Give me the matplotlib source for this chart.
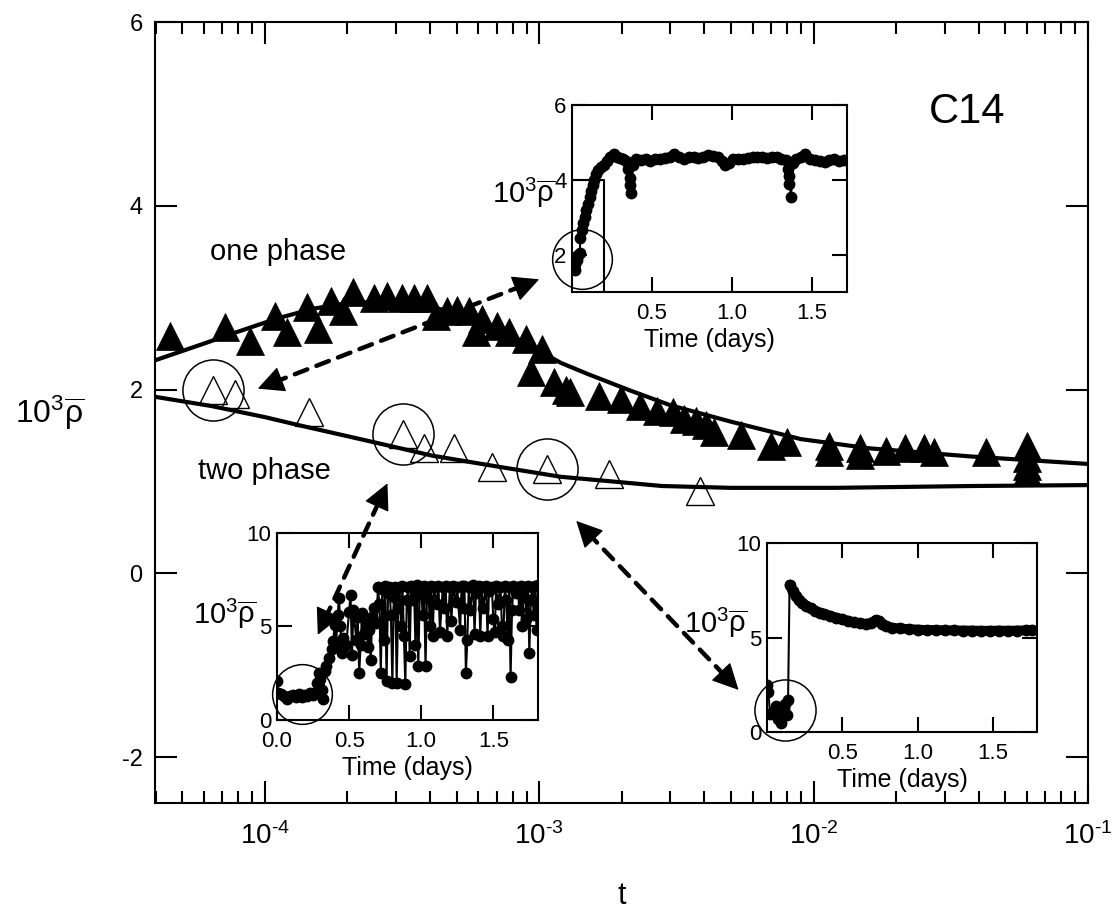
import numpy as np
import matplotlib.pyplot as plt
from matplotlib.patches import ConnectionPatch
from matplotlib.ticker import LogLocator, NullFormatter, FuncFormatter

plt.rcParams['font.family'] = ['Liberation Sans', 'DejaVu Sans']
plt.rcParams['mathtext.fontset'] = 'custom'
plt.rcParams['mathtext.rm'] = 'Liberation Sans'
plt.rcParams['mathtext.it'] = 'Liberation Sans'
plt.rcParams['mathtext.bf'] = 'Liberation Sans:bold'
plt.rcParams['axes.unicode_minus'] = False

# ---- main panel: one phase (filled) and two phase (open) ----
one_t = np.array([4.52e-5, 7.16e-5, 8.82e-5, 1.087e-4, 1.20e-4, 1.42e-4, 1.56e-4,
                  1.75e-4, 1.92e-4, 2.09e-4, 2.51e-4, 2.80e-4, 3.17e-4, 3.51e-4,
                  3.91e-4, 4.22e-4, 4.63e-4, 5.03e-4, 5.56e-4, 5.90e-4, 6.20e-4,
                  7.03e-4, 7.77e-4, 8.94e-4, 9.34e-4, 1.02e-3, 1.13e-3, 1.25e-3,
                  1.29e-3, 1.65e-3, 1.99e-3, 2.33e-3, 2.68e-3, 3.07e-3, 3.38e-3,
                  3.74e-3, 4.07e-3, 4.32e-3, 5.45e-3, 6.97e-3, 7.97e-3, 1.14e-2,
                  1.14e-2, 1.48e-2, 1.48e-2, 1.84e-2, 2.16e-2, 2.52e-2, 2.75e-2,
                  4.25e-2, 6.0e-2, 6.0e-2, 6.0e-2, 6.0e-2])
one_y = np.array([2.58, 2.68, 2.53, 2.80, 2.63, 2.90, 2.66,
                  2.96, 2.85, 3.06, 3.00, 3.02, 3.00, 3.00,
                  3.00, 2.80, 2.85, 2.87, 2.85, 2.63, 2.77,
                  2.69, 2.63, 2.55, 2.19, 2.44, 2.08, 2.00,
                  1.97, 1.93, 1.90, 1.82, 1.77, 1.76, 1.68,
                  1.66, 1.61, 1.54, 1.50, 1.39, 1.43, 1.39,
                  1.32, 1.36, 1.29, 1.33, 1.36, 1.36, 1.32,
                  1.32, 1.39, 1.25, 1.17, 1.10])

two_t = np.array([6.47e-5, 7.78e-5, 1.45e-4, 3.18e-4, 3.82e-4, 4.91e-4, 6.75e-4,
                  1.07e-3, 1.80e-3, 3.85e-3])
two_y = np.array([1.99, 1.95, 1.76, 1.52, 1.36, 1.36, 1.16, 1.14, 1.08, 0.90])
circled = [0, 3, 7]

fit_one_t = [4.0e-5, 6e-5, 8e-5, 1.1e-4, 1.5e-4, 2e-4, 2.8e-4, 3.8e-4, 5e-4, 6.5e-4,
             8e-4, 1.0e-3, 1.2e-3, 1.5e-3, 2.1e-3, 3e-3, 5e-3, 9e-3, 1.6e-2, 3.8e-2, 1e-1]
fit_one_y = [2.32, 2.50, 2.63, 2.77, 2.88, 2.94, 2.96, 2.92, 2.83, 2.70,
             2.58, 2.42, 2.29, 2.17, 2.00, 1.83, 1.65, 1.46, 1.36, 1.27, 1.19]
fit_two_t = [4e-5, 6.4e-5, 1.0e-4, 1.34e-4, 2.47e-4, 4.08e-4, 7.1e-4, 1.2e-3, 2e-3,
             2.8e-3, 5e-3, 1.2e-2, 3.8e-2, 1e-1]
fit_two_y = [1.92, 1.82, 1.70, 1.61, 1.43, 1.28, 1.16, 1.05, 0.99,
             0.95, 0.93, 0.93, 0.95, 0.96]

# dashed double arrows, ends given in main-panel data units
arrows = [((9.43e-5, 2.01), (1.0e-3, 3.20)),
          ((1.56e-4, -0.67), (2.8e-4, 0.98)),
          ((1.365e-3, 0.57), (5.33e-3, -1.27))]

# ---- inset 1: one phase record ----
in1 = np.array([
    (0.02, 1.60), (0.02, 1.75), (0.03, 1.85), (0.03, 1.95), (0.04, 2.00),
    (0.05, 2.05), (0.05, 2.45), (0.06, 2.65), (0.07, 2.85), (0.08, 3.00),
    (0.09, 3.20), (0.10, 3.35), (0.11, 3.55), (0.12, 3.70), (0.13, 3.85),
    (0.14, 4.00), (0.15, 4.15), (0.16, 4.25), (0.18, 4.35), (0.20, 4.40),
    (0.22, 4.50), (0.24, 4.60), (0.26, 4.68), (0.28, 4.62), (0.30, 4.58),
    (0.32, 4.56), (0.34, 4.50), (0.35, 4.30), (0.36, 4.05), (0.36, 3.85),
    (0.37, 3.65), (0.38, 4.40), (0.40, 4.55), (0.43, 4.52), (0.46, 4.55),
    (0.49, 4.50), (0.52, 4.57), (0.55, 4.55), (0.58, 4.58), (0.61, 4.62),
    (0.64, 4.68), (0.67, 4.62), (0.70, 4.57), (0.73, 4.60), (0.76, 4.62),
    (0.79, 4.58), (0.82, 4.60), (0.85, 4.66), (0.88, 4.65), (0.91, 4.60),
    (0.94, 4.50), (0.96, 4.40), (0.98, 4.45), (1.01, 4.55), (1.04, 4.57),
    (1.07, 4.55), (1.10, 4.58), (1.13, 4.60), (1.16, 4.62), (1.19, 4.60),
    (1.22, 4.58), (1.25, 4.62), (1.28, 4.60), (1.31, 4.57), (1.34, 4.52),
    (1.35, 4.30), (1.36, 4.10), (1.36, 3.90), (1.37, 3.55), (1.38, 4.45),
    (1.40, 4.55), (1.43, 4.62), (1.46, 4.70), (1.49, 4.55), (1.52, 4.52),
    (1.55, 4.50), (1.58, 4.48), (1.61, 4.52), (1.64, 4.55), (1.67, 4.50),
    (1.70, 4.52)])
in1_box_x = [0.0, 0.2, 0.2]
in1_box_y = [4.0, 4.0, 1.0]
in1_ring = (0.06, 1.87)

# ---- inset 2: two phase record (early window) ----
in2 = np.array([
    (0.00, 2.10), (0.01, 1.45), (0.03, 1.40), (0.05, 1.30), (0.07, 1.10),
    (0.09, 1.30), (0.11, 1.35), (0.13, 1.25), (0.15, 1.40), (0.17, 1.25),
    (0.19, 1.35), (0.21, 1.30), (0.23, 1.45), (0.25, 1.35), (0.27, 1.50),
    (0.28, 2.00), (0.29, 2.50), (0.30, 2.20), (0.31, 1.60), (0.32, 1.10),
    (0.33, 2.60), (0.34, 2.90), (0.36, 3.30), (0.38, 3.80), (0.39, 4.20),
    (0.40, 5.10), (0.41, 4.00), (0.42, 5.60), (0.43, 6.50), (0.44, 5.00),
    (0.45, 3.60), (0.46, 4.40), (0.48, 4.00), (0.50, 5.80), (0.51, 6.70),
    (0.52, 3.50), (0.53, 5.90), (0.55, 4.30), (0.56, 5.50), (0.57, 2.50),
    (0.58, 4.00), (0.59, 5.70), (0.60, 4.60), (0.62, 5.20), (0.63, 3.90),
    (0.64, 4.80), (0.65, 3.20), (0.66, 5.50), (0.67, 6.00), (0.69, 5.20),
    (0.70, 7.10), (0.71, 6.20), (0.72, 2.50), (0.73, 7.00), (0.74, 4.30),
    (0.75, 7.15), (0.76, 2.10), (0.77, 6.80), (0.78, 7.10), (0.79, 5.60),
    (0.80, 2.00), (0.81, 6.60), (0.82, 7.10), (0.83, 2.00), (0.84, 6.00),
    (0.85, 7.10), (0.86, 5.00), (0.87, 7.15), (0.88, 4.50), (0.89, 1.90),
    (0.90, 6.40), (0.91, 7.10), (0.92, 3.40), (0.93, 7.15), (0.94, 6.40),
    (0.95, 7.10), (0.96, 4.00), (0.97, 7.20), (0.98, 2.90), (0.99, 6.80),
    (1.00, 7.10), (1.01, 5.60), (1.02, 7.15), (1.03, 2.90), (1.04, 6.50),
    (1.05, 7.10), (1.06, 5.00), (1.07, 7.15), (1.08, 4.50), (1.09, 7.10),
    (1.11, 6.20), (1.12, 7.15), (1.13, 4.70), (1.15, 7.10), (1.16, 6.00),
    (1.17, 7.15), (1.18, 4.50), (1.20, 7.10), (1.21, 5.30), (1.22, 7.15),
    (1.24, 6.30), (1.25, 7.10), (1.27, 4.80), (1.28, 7.15), (1.29, 6.00),
    (1.30, 7.15), (1.31, 2.50), (1.32, 4.30), (1.33, 7.10), (1.34, 5.90),
    (1.36, 7.20), (1.37, 4.60), (1.38, 6.80), (1.40, 7.15), (1.41, 4.50),
    (1.42, 7.10), (1.43, 6.00), (1.45, 7.15), (1.46, 4.50), (1.47, 6.90),
    (1.49, 7.10), (1.50, 5.40), (1.51, 4.70), (1.52, 7.15), (1.53, 6.20),
    (1.55, 7.10), (1.56, 5.00), (1.57, 4.50), (1.58, 7.15), (1.59, 6.40),
    (1.60, 4.30), (1.61, 7.10), (1.62, 2.30), (1.63, 5.90), (1.64, 7.15),
    (1.66, 6.80), (1.67, 7.10), (1.68, 5.90), (1.69, 7.15), (1.70, 5.00),
    (1.71, 6.60), (1.72, 7.10), (1.73, 5.40), (1.74, 7.15), (1.75, 3.60),
    (1.76, 6.40), (1.77, 7.10), (1.78, 5.60), (1.79, 7.15), (1.80, 4.80),
    (1.81, 7.20)])
in2_ring = (0.174, 1.39)

# ---- inset 3: two phase record (late window) ----
in3 = np.array([
    (0.00, 2.50), (0.01, 2.10), (0.02, 0.95), (0.04, 1.05), (0.05, 1.10),
    (0.06, 1.40), (0.07, 0.70), (0.08, 1.20), (0.09, 0.50), (0.10, 1.00),
    (0.11, 1.20), (0.12, 1.50), (0.13, 0.90), (0.14, 1.70), (0.15, 7.80),
    (0.17, 7.45), (0.19, 7.20), (0.21, 7.00), (0.23, 6.85), (0.26, 6.68),
    (0.29, 6.55), (0.32, 6.42), (0.35, 6.32), (0.38, 6.25), (0.42, 6.15),
    (0.46, 6.05), (0.50, 5.97), (0.54, 5.88), (0.58, 5.80), (0.62, 5.75),
    (0.66, 5.72), (0.69, 5.78), (0.72, 5.92), (0.74, 5.88), (0.76, 5.72),
    (0.79, 5.60), (0.83, 5.52), (0.88, 5.48), (0.94, 5.45), (1.00, 5.42),
    (1.06, 5.40), (1.12, 5.40), (1.18, 5.38), (1.24, 5.38), (1.30, 5.37),
    (1.36, 5.37), (1.42, 5.36), (1.48, 5.36), (1.54, 5.37), (1.60, 5.36),
    (1.66, 5.37), (1.72, 5.38), (1.76, 5.40)])
in3_jump = 14  # first point after the jump
in3_ring = (0.12, 1.16)

fig = plt.figure(figsize=(11.12, 9.18), dpi=100)
ax = fig.add_axes([0.1394, 0.1253, 0.8390, 0.8507])

ax.plot(fit_one_t, fit_one_y, '-', color='k', lw=3, zorder=2)
ax.plot(fit_two_t, fit_two_y, '-', color='k', lw=3, zorder=2)
ax.plot(one_t, one_y, '^', ms=19.5, color='k', mec='k', mew=0.5, zorder=3)
ax.plot(two_t, two_y, '^', ms=19.5, mfc='none', mec='k', mew=1.0, zorder=3)
ax.plot(two_t[circled], two_y[circled], 'o', ms=44, mfc='none', mec='k', mew=1.1, zorder=3)

ax.set_xscale('log')
ax.set_xlim(10 ** -4.4, 1e-1)
ax.set_ylim(-2.5, 6)
ax.set_yticks([-2, 0, 2, 4, 6])
ax.xaxis.set_major_locator(LogLocator(base=10, numticks=10))
ax.xaxis.set_minor_locator(LogLocator(base=10, subs=np.arange(2, 10), numticks=20))
ax.xaxis.set_minor_formatter(NullFormatter())
# decade labels with a plain hyphen in the exponent
ax.xaxis.set_major_formatter(FuncFormatter(
    lambda v, pos: r'$10^{\text{%d}}$' % round(np.log10(v))))
ax.tick_params(which='both', direction='in', top=True, right=True, width=1.5)
ax.tick_params(which='major', length=16)
ax.tick_params(which='minor', length=8.5)
ax.tick_params(axis='x', labelsize=20, pad=14)
ax.tick_params(axis='y', labelsize=17, pad=9)
for sp in ax.spines.values():
    sp.set_linewidth(1.5)

ax.set_xlabel('t', fontsize=22, labelpad=22)
ax.set_ylabel(r'$10^3\overline{\rho}$', fontsize=23, rotation=0, ha='center', va='center')
ax.yaxis.set_label_coords(-0.113, 0.50)

ax.text(0.059, 0.706, 'one phase', transform=ax.transAxes, fontsize=21, ha='left', va='center')
ax.text(0.046, 0.425, 'two phase', transform=ax.transAxes, fontsize=21, ha='left', va='center')
ax.text(0.87, 0.885, 'C14', transform=ax.transAxes, fontsize=30, ha='center', va='center')


def style_inset(a, xt, yt, ylim, xlim):
    a.set_xlim(*xlim)
    a.set_ylim(*ylim)
    a.set_xticks(xt)
    a.set_yticks(yt)
    a.tick_params(which='both', direction='in', top=True, right=True, width=1.5,
                  length=11, labelsize=16, pad=4)
    a.tick_params(axis='x', pad=8)
    for sp in a.spines.values():
        sp.set_linewidth(1.5)
    a.set_xlabel('Time (days)', fontsize=18, labelpad=3)
    a.set_ylabel(r'$10^3\overline{\rho}$', fontsize=21, rotation=0, ha='center', va='center')


# inset 1
a1 = fig.add_axes([0.5144, 0.6819, 0.2473, 0.2037])
a1.plot(in1[:, 0], in1[:, 1], 'o-', color='k', ms=7.5, lw=1.5)
a1.plot(in1_box_x, in1_box_y, '-', color='k', lw=1.5)
a1.plot(*in1_ring, 'o', ms=43, mfc='none', mec='k', mew=1.1, clip_on=False)
style_inset(a1, [0.5, 1.0, 1.5], [2, 4, 6], (1, 6), (0, 1.72))
a1.yaxis.set_label_coords(-0.175, 0.53)

# inset 2
a2 = fig.add_axes([0.2491, 0.2157, 0.2347, 0.2037])
a2.plot(in2[:, 0], in2[:, 1], 'o-', color='k', ms=7.5, lw=1.5)
a2.plot(*in2_ring, 'o', ms=43, mfc='none', mec='k', mew=1.1, clip_on=False)
style_inset(a2, [0.0, 0.5, 1.0, 1.5], [0, 5, 10], (0, 10), (0, 1.81))
a2.yaxis.set_label_coords(-0.20, 0.57)

# inset 3
a3 = fig.add_axes([0.6897, 0.2026, 0.2428, 0.2059])
a3.plot(in3[:, 0], in3[:, 1], 'o-', color='k', ms=7.5, lw=1.5)
a3.plot(in3[in3_jump:, 0], in3[in3_jump:, 1], '-', color='k', lw=7,
        solid_capstyle='round')
a3.plot(*in3_ring, 'o', ms=44, mfc='none', mec='k', mew=1.1, clip_on=False)
style_inset(a3, [0.5, 1.0, 1.5], [0, 5, 10], (0, 10), (0, 1.79))
a3.yaxis.set_label_coords(-0.19, 0.58)


# dashed double arrows drawn above every panel, with solid heads
def double_arrow(p, q, head_px=24):
    P = ax.transData.transform(p)
    Q = ax.transData.transform(q)
    u = (Q - P) / np.hypot(*(Q - P))
    fig.add_artist(ConnectionPatch(P, Q, coordsA='figure pixels', coordsB='figure pixels',
                                   arrowstyle='-', linestyle=(0, (3, 2.2)), lw=3.2,
                                   color='k', shrinkA=12, shrinkB=12, zorder=5))
    for end, d in ((P, u), (Q, -u)):
        fig.add_artist(ConnectionPatch(end + d * head_px, end,
                                       coordsA='figure pixels', coordsB='figure pixels',
                                       arrowstyle='-|>,head_length=0.6,head_width=0.3',
                                       mutation_scale=28, lw=1, color='k', fc='k',
                                       shrinkA=0, shrinkB=0, zorder=6))


for p, q in arrows:
    double_arrow(p, q)

fig.savefig('out.png', dpi=100)
